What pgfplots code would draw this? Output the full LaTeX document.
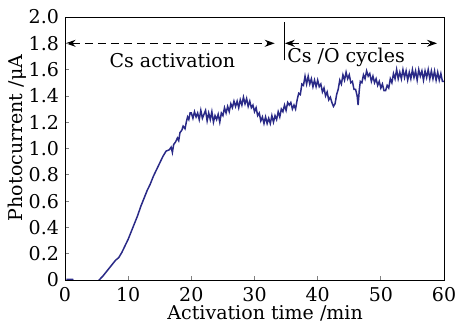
\documentclass[border=0pt]{standalone}
\usepackage{pgfplots}
\pgfplotsset{compat=1.18}
\usepackage{fontspec}
\setmainfont{DejaVu Serif}
\usetikzlibrary{arrows.meta}
\definecolor{curve}{RGB}{42,42,135}
\begin{document}
\begin{tikzpicture}[font=\fontsize{9.5}{11}\selectfont]
\begin{axis}[
  width=189.5pt, height=131.5pt, scale only axis,
  xmin=0, xmax=60, ymin=0, ymax=2,
  xtick={0,10,...,60},
  ytick={0,0.2,0.4,0.6,0.8,1.0,1.2,1.4,1.6,1.8,2.0},
  yticklabels={0,0.2,0.4,0.6,0.8,1.0,1.2,1.4,1.6,1.8,2.0},
  /pgf/number format/assume math mode=true,
  tick pos=left, tick align=inside,
  major tick length=2pt,
  every tick/.style={gray, line width=0.4pt},
  axis line style={line width=0.5pt},
  xlabel={Activation time /min},
  ylabel={Photocurrent /μA},
  every axis x label/.style={at={(axis description cs:0.528,0)}, anchor=center, yshift=-16.5pt},
  every axis y label/.style={at={(axis description cs:0,0.54)}, rotate=90, anchor=center, yshift=24pt},
  yticklabel style={xshift=0.5pt},
  axis on top,
]
\addplot[curve, line width=0.75pt] coordinates {
(0.2,0.005)(1.2,0.005)(1.4,-0.02)(5.0,-0.02)(5.4,0.00)
(6.0,0.03)(6.5,0.06)(7.0,0.09)(7.5,0.12)(8.0,0.15)(8.5,0.17)(9.0,0.21)(9.5,0.26)
(10.0,0.31)(10.5,0.37)(11.0,0.43)(11.5,0.49)(12.0,0.56)(12.5,0.62)(13.0,0.68)(13.5,0.73)
(14.0,0.79)(14.5,0.84)(15.0,0.89)(15.5,0.94)(16.0,0.98)(16.5,0.99)(16.8,1.01)(17.0,0.97)
(17.2,1.03)(17.5,1.05)(17.8,1.08)(18.0,1.06)(18.2,1.12)(18.5,1.14)(18.7,1.17)(19.0,1.15)
(19.2,1.20)(19.4,1.24)(19.6,1.22)(19.8,1.27)
(20.00,1.27)(20.25,1.23)(20.50,1.28)(20.75,1.24)(21.00,1.27)(21.25,1.22)(21.50,1.29)(21.75,1.23)
(22.00,1.26)(22.25,1.29)(22.50,1.21)(22.75,1.27)(23.00,1.22)(23.25,1.28)(23.50,1.20)(23.75,1.25)
(24.00,1.22)(24.25,1.26)(24.50,1.20)(24.75,1.27)(25.00,1.25)(25.25,1.31)(25.50,1.27)(25.75,1.32)
(26.00,1.28)(26.25,1.34)(26.50,1.31)(26.75,1.36)(27.00,1.32)(27.25,1.36)(27.50,1.31)(27.75,1.37)
(28.00,1.33)(28.25,1.39)(28.50,1.34)(28.75,1.38)(29.00,1.32)(29.25,1.36)(29.50,1.31)(29.75,1.33)
(30.00,1.28)(30.25,1.31)(30.50,1.25)(30.75,1.27)(31.00,1.21)(31.25,1.24)(31.50,1.19)(31.75,1.24)
(32.00,1.19)(32.25,1.23)(32.50,1.19)(32.75,1.25)(33.00,1.20)(33.25,1.25)(33.50,1.22)(33.75,1.28)
(34.00,1.24)(34.25,1.30)(34.50,1.28)(34.75,1.33)(35.00,1.29)(35.25,1.35)(35.50,1.33)(35.75,1.35)
(36.00,1.30)(36.25,1.33)(36.50,1.30)(36.75,1.37)(37.00,1.42)(37.25,1.41)(37.50,1.49)(37.75,1.48)
(38.00,1.55)(38.25,1.49)(38.50,1.55)(38.75,1.49)(39.00,1.53)(39.25,1.47)(39.50,1.52)(39.75,1.47)
(40.00,1.52)(40.25,1.47)(40.50,1.49)(40.75,1.43)(41.00,1.46)(41.25,1.40)(41.50,1.43)(41.75,1.37)
(42.00,1.39)(42.25,1.35)(42.50,1.32)(42.75,1.34)(43.00,1.41)(43.25,1.45)(43.50,1.52)(43.75,1.49)
(44.00,1.56)(44.25,1.52)(44.50,1.58)(44.75,1.53)(45.00,1.56)(45.25,1.50)(45.50,1.51)(45.75,1.45)
(46.00,1.45)(46.25,1.40)(46.40,1.33)(46.60,1.45)(46.75,1.51)(47.00,1.50)(47.25,1.56)(47.50,1.53)
(47.75,1.59)(48.00,1.55)(48.25,1.57)(48.50,1.51)(48.75,1.55)(49.00,1.50)(49.25,1.53)(49.50,1.48)
(49.75,1.51)(50.00,1.46)(50.25,1.49)(50.50,1.44)(50.75,1.44)(51.00,1.48)(51.25,1.46)(51.50,1.53)
(51.75,1.50)(52.00,1.57)(52.25,1.53)(52.50,1.60)(52.75,1.53)(53.00,1.58)(53.25,1.53)(53.50,1.60)
(53.75,1.54)(54.00,1.59)(54.25,1.52)(54.50,1.58)(54.75,1.53)(55.00,1.60)(55.25,1.54)(55.50,1.59)
(55.75,1.52)(56.00,1.60)(56.25,1.55)(56.50,1.59)(56.75,1.52)(57.00,1.59)(57.25,1.54)(57.50,1.60)
(57.75,1.53)(58.00,1.59)(58.25,1.53)(58.50,1.59)(58.75,1.52)(59.00,1.58)(59.25,1.52)(59.50,1.57)
(59.75,1.51)(60.00,1.51)
};
\draw[{Stealth[length=5pt,width=3.5pt]}-{Stealth[length=5pt,width=3.5pt]}, dash pattern=on 4pt off 2.5pt, line width=0.55pt]
  (axis cs:0.1,1.8) -- (axis cs:33.2,1.8);
\draw[line width=0.55pt] (axis cs:34.7,1.67) -- (axis cs:34.7,1.96);
\draw[{Stealth[length=5pt,width=3.5pt]}-{Stealth[length=5pt,width=3.5pt]}, dash pattern=on 4pt off 2.5pt, line width=0.55pt]
  (axis cs:34.8,1.8) -- (axis cs:58.9,1.8);
\node at (axis cs:17.0,1.67) {Cs activation};
\node at (axis cs:44.5,1.69) {Cs /O cycles};
\end{axis}
\pgfresetboundingbox
\path[use as bounding box] ([xshift=-32.5pt,yshift=-23pt]current axis.south west) rectangle ([xshift=6pt,yshift=8.5pt]current axis.north east);
\end{tikzpicture}
\end{document}
